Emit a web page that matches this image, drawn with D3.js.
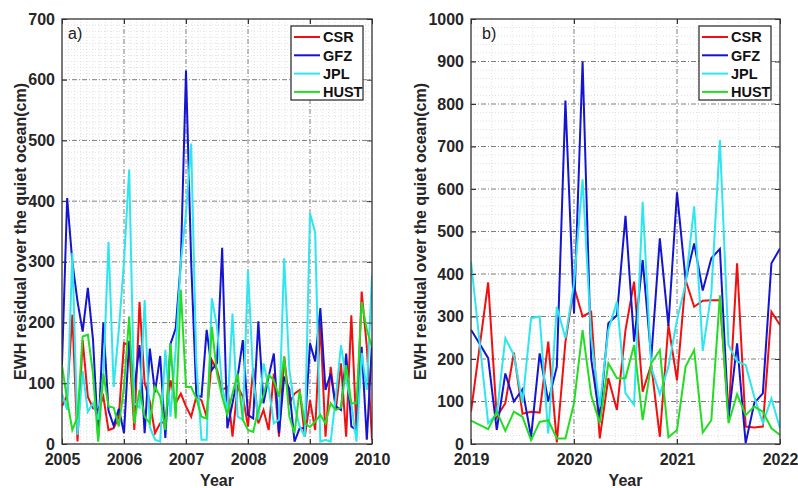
<!DOCTYPE html>
<html><head><meta charset="utf-8">
<script src="https://cdn.jsdelivr.net/npm/d3@7"></script>
<style>body{margin:0;background:#fff}svg{display:block}text{font-family:Arial,"Liberation Sans",sans-serif}</style>
</head><body><div id="c"></div>
<script>
// ---------------- DATA ----------------
const seriesNames = ["CSR", "GFZ", "JPL", "HUST"];
const seriesColors = ["#f01010", "#1515d0", "#2ee6ee", "#22dd22"];

// Panel a) monthly values, Jan 2005 .. Jan 2010
const aStartYear = 2005;
const aYearTicks = [2005, 2006, 2007, 2008, 2009, 2010];
const aValueTicks = [0, 100, 200, 300, 400, 500, 600, 700];
const aCSR = [62,81,213,4,171,78,59,56,78,23,26,45,166,163,23,234,100,70,18,34,37,105,67,83,62,45,78,72,45,138,122,89,94,12,94,78,29,125,34,56,23,116,12,144,67,83,89,12,72,23,200,12,127,56,133,12,212,23,251,160,7];
const aGFZ = [130,405,300,235,185,257,172,10,200,55,30,58,18,170,90,163,18,157,85,145,10,165,190,300,615,300,80,78,188,122,133,323,26,67,111,171,48,42,202,67,111,149,18,111,90,4,26,26,166,136,224,89,116,62,56,149,29,23,160,7,166];
const aJPL = [83,56,315,15,120,53,67,40,110,333,94,188,300,452,67,60,237,28,7,4,155,45,155,300,380,495,133,7,7,240,193,94,56,215,45,40,287,111,40,133,94,34,40,306,122,62,29,12,380,348,4,7,4,78,163,105,67,4,150,89,278];
const aHUST = [130,72,23,45,177,180,116,4,116,62,60,29,94,210,34,89,45,34,94,78,23,166,42,254,94,94,75,45,42,193,116,78,48,83,116,40,23,20,56,80,114,105,78,144,45,18,88,34,28,37,48,34,67,56,60,130,67,67,234,188,160];

// Panel b) monthly values, Jan 2019 .. Jan 2022
const bStartYear = 2019;
const bYearTicks = [2019, 2020, 2021, 2022];
const bValueTicks = [0, 100, 200, 300, 400, 500, 600, 700, 800, 900, 1000];
const bCSR = [76,228,380,64,96,215,71,76,74,241,4,240,370,300,311,13,155,80,268,382,123,187,17,280,150,386,323,337,338,338,62,425,41,39,41,311,280];
const bGFZ = [269,236,202,33,166,100,129,17,213,100,182,808,307,900,200,60,284,303,537,241,433,202,484,278,592,386,472,361,437,459,60,237,2,96,119,425,460];
const bJPL = [429,240,49,70,249,209,96,296,300,24,323,249,378,623,250,88,268,335,119,92,570,180,117,182,292,376,559,219,355,715,233,194,186,111,49,107,37];
const bHUST = [55,45,35,76,31,76,64,9,52,56,13,13,96,268,115,49,190,155,155,233,56,190,221,16,33,182,221,27,56,350,49,117,68,88,76,37,21];

const yTitle = "EWH residual over the quiet ocean(cm)";
const xTitle = "Year";

// ---------------- DRAW ----------------
const W = 798, H = 488;
const svg = d3.select("#c").append("svg").attr("width", W).attr("height", H);

function panel(opt) {
  const {x0, x1, y0, y1, years, yMax, yTicks, series, start, label, xMinor, yMinor, labelX, titleX} = opt;
  const g = svg.append("g");
  const x = d3.scaleLinear().domain([years[0], years[years.length-1]]).range([x0, x1]);
  const y = d3.scaleLinear().domain([0, yMax]).range([y1, y0]);
  const id = "clip" + label[0];
  svg.append("clipPath").attr("id", id).append("rect")
     .attr("x", x0).attr("y", y0).attr("width", x1-x0).attr("height", y1-y0);

  // minor grid
  const xm = d3.range(years[0], years[years.length-1] + 1e-9, xMinor).filter(v => Math.abs(v - Math.round(v)) > 1e-6);
  const ym = d3.range(0, yMax + 1e-9, yMinor).filter(v => Math.abs(v/100 - Math.round(v/100)) > 1e-6);
  g.selectAll(".xm").data(xm).join("line")
    .attr("x1", d => x(d)).attr("x2", d => x(d)).attr("y1", y0).attr("y2", y1)
    .attr("stroke", "#d4d4d4").attr("stroke-width", 0.7).attr("stroke-dasharray", "1,2");
  g.selectAll(".ym").data(ym).join("line")
    .attr("y1", d => y(d)).attr("y2", d => y(d)).attr("x1", x0).attr("x2", x1)
    .attr("stroke", "#d4d4d4").attr("stroke-width", 0.7).attr("stroke-dasharray", "1,2");
  // major grid
  g.selectAll(".xM").data(years.slice(1, -1)).join("line")
    .attr("x1", d => x(d)).attr("x2", d => x(d)).attr("y1", y0).attr("y2", y1)
    .attr("stroke", "#6f6f6f").attr("stroke-width", 0.9).attr("stroke-dasharray", "5,2,1,2");
  g.selectAll(".yM").data(yTicks.slice(1, -1)).join("line")
    .attr("y1", d => y(d)).attr("y2", d => y(d)).attr("x1", x0).attr("x2", x1)
    .attr("stroke", "#6f6f6f").attr("stroke-width", 0.9).attr("stroke-dasharray", "5,2,1,2");

  // series lines
  const line = d3.line().x((d, i) => x(start + i/12)).y(d => y(d));
  const lg = g.append("g").attr("clip-path", `url(#${id})`);
  series.forEach((s, i) => {
    lg.append("path").attr("d", line(s)).attr("fill", "none")
      .attr("stroke", seriesColors[i]).attr("stroke-width", 2).attr("stroke-linejoin", "miter");
  });

  // axes (ticks inside, labels outside)
  const xb = g.append("g").attr("transform", `translate(0,${y1})`)
    .call(d3.axisBottom(x).tickValues(years).tickFormat(d3.format("d")).tickSize(-5).tickPadding(10));
  const xt = g.append("g").attr("transform", `translate(0,${y0})`)
    .call(d3.axisTop(x).tickValues(years).tickFormat("").tickSize(-5));
  const yl = g.append("g").attr("transform", `translate(${x0},0)`)
    .call(d3.axisLeft(y).tickValues(yTicks).tickFormat(d3.format("d")).tickSize(-5).tickPadding(7));
  const yr = g.append("g").attr("transform", `translate(${x1},0)`)
    .call(d3.axisRight(y).tickValues(yTicks).tickFormat("").tickSize(-5));
  [xb, xt, yl, yr].forEach(a => {
    a.select(".domain").remove();
    a.selectAll(".tick line").attr("stroke", "#333");
    a.selectAll("text").attr("font-size", 16).attr("font-weight", "bold").attr("fill", "#262626")
      .attr("font-family", "Arial, 'Liberation Sans', sans-serif");
  });
  // frame
  g.append("rect").attr("x", x0).attr("y", y0).attr("width", x1-x0).attr("height", y1-y0)
    .attr("fill", "none").attr("stroke", "#333").attr("stroke-width", 1.3);

  // titles
  g.append("text").attr("x", (x0+x1)/2).attr("y", 486).attr("text-anchor", "middle")
    .attr("font-size", 16).attr("font-weight", "bold").attr("fill", "#262626").text(xTitle);
  g.append("text").attr("transform", `translate(${titleX},${(y0+y1)/2}) rotate(-90)`)
    .attr("text-anchor", "middle").attr("dy", "0.35em")
    .attr("font-size", 16).attr("font-weight", "bold").attr("fill", "#262626").text(yTitle);
  g.append("text").attr("x", labelX).attr("y", 39).attr("font-size", 16).attr("fill", "#222").text(label);

  // legend
  const lx = x1 - 81, ly = 26, lw = 72, lh = 74;
  const leg = g.append("g");
  leg.append("rect").attr("x", lx).attr("y", ly).attr("width", lw).attr("height", lh)
    .attr("fill", "#fff").attr("stroke", "#333").attr("stroke-width", 1.3);
  seriesNames.forEach((n, i) => {
    const yy = ly + 11 + i * 18.3;
    leg.append("line").attr("x1", lx + 3).attr("x2", lx + 29).attr("y1", yy).attr("y2", yy)
      .attr("stroke", seriesColors[i]).attr("stroke-width", 2);
    leg.append("text").attr("x", lx + 32).attr("y", yy).attr("dy", "0.36em")
      .attr("font-size", 14.5).attr("font-weight", "bold").attr("fill", "#111").text(n);
  });
}

panel({x0: 62, x1: 372, y0: 19, y1: 444, years: aYearTicks, yMax: 700, yTicks: aValueTicks,
  series: [aCSR, aGFZ, aJPL, aHUST], start: aStartYear, label: "a)", xMinor: 0.1, yMinor: 10,
  labelX: 68, titleX: 20});
panel({x0: 471, x1: 780, y0: 19, y1: 444, years: bYearTicks, yMax: 1000, yTicks: bValueTicks,
  series: [bCSR, bGFZ, bJPL, bHUST], start: bStartYear, label: "b)", xMinor: 0.2, yMinor: 20,
  labelX: 482, titleX: 420});
</script></body></html>
